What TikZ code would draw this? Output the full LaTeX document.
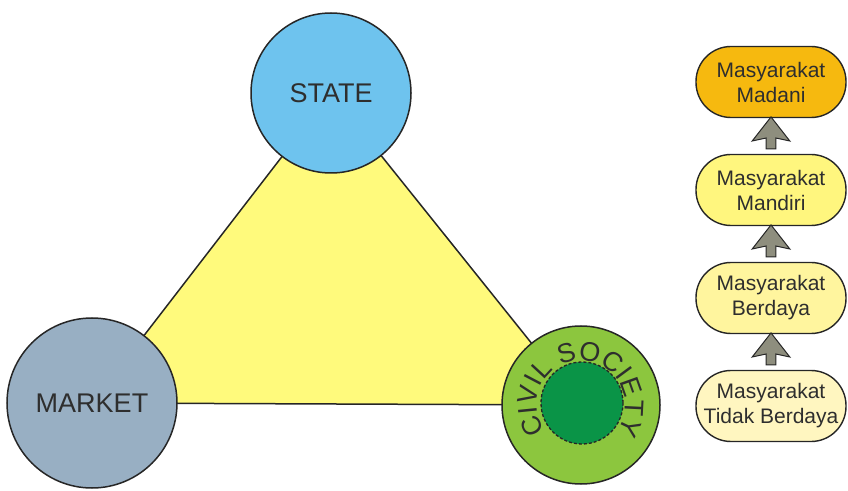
\documentclass[tikz,border=0pt]{standalone}
\usepackage{fontspec}
\setmainfont{Liberation Sans}
\usetikzlibrary{shapes.arrows,decorations.text,calc}

\definecolor{stateblue}{HTML}{6EC3EE}
\definecolor{marketgray}{HTML}{98AFC3}
\definecolor{triyellow}{HTML}{FFFA7C}
\definecolor{civlight}{HTML}{8CC63E}
\definecolor{civdark}{HTML}{0A9447}
\definecolor{edge}{HTML}{262626}
\definecolor{inktext}{HTML}{2E2E2E}
\definecolor{madani}{HTML}{F6B90F}
\definecolor{mandiri}{HTML}{FFF67E}
\definecolor{berdaya}{HTML}{FFF59E}
\definecolor{tidak}{HTML}{FFF6C0}
\definecolor{arrowfill}{HTML}{8E8E7E}

\tikzset{
  pillar/.style={circle, draw=edge, line width=1.5pt, inner sep=0pt,
    text=inktext, font=\fontsize{27}{30}\selectfont},
  stagebox/.style={rectangle, rounded corners=35pt, draw=edge, line width=1.4pt,
    minimum width=150pt, minimum height=71pt, inner sep=0pt, align=center,
    text=inktext, font=\fontsize{21}{25}\selectfont},
  uparrow/.style={single arrow, draw=edge, fill=arrowfill, line width=1pt,
    rotate=90, minimum height=32pt, inner sep=4.3pt,
    single arrow head extend=14pt, single arrow tip angle=76,
    single arrow head indent=3pt}
}

\begin{document}
\begin{tikzpicture}[x=1pt, y=1pt]
  \useasboundingbox (0,0) rectangle (848,490);

  % centres of the three pillars
  \coordinate (sc) at (331,397);
  \coordinate (mc) at (92,87);
  \coordinate (cc) at (581,85);

  % triangle joining the pillars
  \draw[fill=triyellow, draw=edge, line width=1.5pt] (sc) -- (mc) -- (cc) -- cycle;

  \node[pillar, fill=stateblue, minimum size=160pt] (state) at (sc) {STATE};
  \node[pillar, fill=marketgray, minimum size=170pt] (market) at (mc) {MARKET};
  \node[pillar, fill=civlight, minimum size=158pt] (civ) at (cc) {};
  \node[circle, fill=civdark, draw=edge, dashed, dash pattern=on 3pt off 2pt,
        line width=1.3pt, minimum size=82pt, inner sep=0pt] (core)
        at ($(civ.center)+(1,2)$) {};

  % curved label round the civil society circle
  \path[decorate, decoration={text along path, text align=fit to path,
        text color=inktext,
        text={|\fontsize{27}{27}\selectfont|CIVIL SOCIETY}}]
    ($(civ.center)+(216:44.5)$) arc[start angle=216, end angle=-37, radius=44.5];

  % stages on the right
  \node[stagebox, fill=madani]  (b1) at (771,408) {Masyarakat\\Madani};
  \node[stagebox, fill=mandiri] (b2) at (771,300) {Masyarakat\\Mandiri};
  \node[stagebox, fill=berdaya] (b3) at (771,192) {Masyarakat\\Berdaya};
  \node[stagebox, fill=tidak]   (b4) at (771,84)  {Masyarakat\\Tidak Berdaya};

  \path (b2.north) -- (b1.south) node[midway, uparrow] (a21) {};
  \path (b3.north) -- (b2.south) node[midway, uparrow] (a32) {};
  \path (b4.north) -- (b3.south) node[midway, uparrow] (a43) {};
\end{tikzpicture}
\end{document}
